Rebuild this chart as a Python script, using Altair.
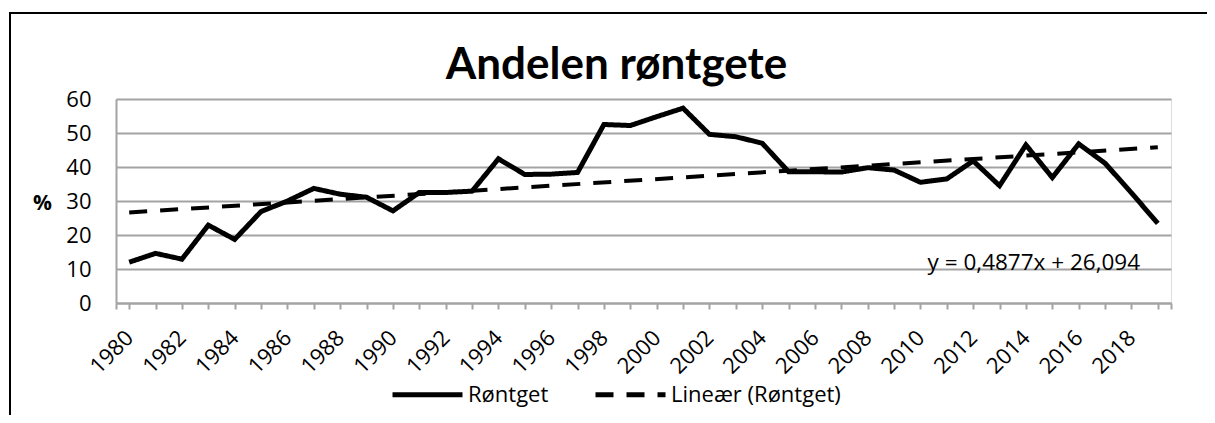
import altair as alt
import pandas as pd

years = list(range(1980, 2020))
values = [12.0, 14.6, 12.9, 22.9, 18.7, 26.9, 30.0, 33.7, 32.0, 31.1,
          27.1, 32.5, 32.5, 32.9, 42.4, 37.8, 37.9, 38.4, 52.5, 52.2,
          54.8, 57.3, 49.6, 48.9, 47.0, 38.6, 38.6, 38.5, 39.8, 39.1,
          35.5, 36.5, 41.8, 34.5, 46.5, 36.9, 46.8, 41.1, 32.4, 23.4]
series_names = ["Røntget", "Lineær (Røntget)"]
y_ticks = [0, 10, 20, 30, 40, 50, 60]
x_ticks = [1979.5] + years + [2019.5]
title_text = "Andelen røntgete"
equation = "y = 0,4877x + 26,094"

df = pd.DataFrame({"year": years, "value": values, "series": series_names[0]})

FONT = "Lato"
FONT2 = "Open Sans"
GRID = "#a3a3a3"

x_axis = alt.Axis(
    values=x_ticks, tickCount=100,
    labelExpr="datum.value % 2 == 0 ? '' + datum.value : ''",
    labelAngle=-45, labelAlign="right", labelBaseline="middle",
    labelPadding=25, tickSize=6, tickColor=GRID, tickWidth=2,
    domainColor=GRID, domainWidth=2, grid=False,
    labelFont=FONT2, labelFontSize=22, labelColor="black",
    labelOverlap=False, title=None,
)
y_axis = alt.Axis(
    values=y_ticks, tickCount=len(y_ticks), ticks=False, tickSize=0,
    labelPadding=25, labelOverlap=False,
    domainColor=GRID, domainWidth=2, gridColor=GRID, gridWidth=2,
    labelFont=FONT2, labelFontSize=22, labelColor="black",
    title="%", titleAngle=0, titleFont=FONT2, titleFontSize=21,
    titleFontWeight="bold", titleX=-74, titleY=104,
    titleAlign="center", titleBaseline="middle", titleColor="black",
)
x_scale = alt.Scale(domain=[1979.5, 2019.5], nice=False, zero=False)
y_scale = alt.Scale(domain=[0, 60], nice=False)

dash = alt.StrokeDash(
    "series:N",
    scale=alt.Scale(domain=series_names, range=[[1, 0], [18, 13]]),
    legend=alt.Legend(
        title=None, orient="none", direction="horizontal",
        legendX=274, legendY=258, symbolType="stroke",
        symbolSize=4900, symbolStrokeWidth=5, symbolStrokeColor="black",
        labelFont=FONT2, labelFontSize=22, labelColor="black",
        labelOffset=3, columnPadding=36, labelLimit=400,
    ),
)

base = alt.Chart(df)

line = base.mark_line(color="black", strokeWidth=5).encode(
    x=alt.X("year:Q", scale=x_scale, axis=x_axis),
    y=alt.Y("value:Q", scale=y_scale, axis=y_axis),
    strokeDash=dash,
)

trend = base.transform_regression("year", "value").transform_calculate(
    series=f"'{series_names[1]}'"
).mark_line(color="black", strokeWidth=4).encode(
    x=alt.X("year:Q", scale=x_scale, axis=x_axis),
    y=alt.Y("value:Q", scale=y_scale, axis=y_axis),
    strokeDash=alt.StrokeDash("series:N"),
)

eq = alt.Chart(pd.DataFrame({"t": [equation]})).mark_text(
    font=FONT2, fontSize=22.5, color="black", align="center", baseline="middle"
).encode(x=alt.datum(2014.3), y=alt.datum(11.8), text="t:N")

frame_top = alt.Chart(pd.DataFrame({"f": [0]})).mark_rule(
    color="black", strokeWidth=2, clip=False
).encode(x=alt.value(-107), x2=alt.value(1200), y=alt.value(-86))

frame_left = alt.Chart(pd.DataFrame({"f": [0]})).mark_rule(
    color="black", strokeWidth=2, clip=False
).encode(x=alt.value(-106), y=alt.value(-87), y2=alt.value(400))

chart = alt.layer(frame_top, frame_left, trend, line, eq).properties(
    width=1055, height=204,
    title=alt.TitleParams(
        title_text, font=FONT, fontSize=44, fontWeight="bold",
        color="black", anchor="middle", dx=-27, offset=0, dy=112,
        baseline="alphabetic",
    ),
    autosize=alt.AutoSizeParams(type="none"),
    padding={"left": 108, "top": 91, "right": 36, "bottom": 112},
).configure_view(
    fill="#f2f2f2", stroke=None
).configure(background="white")

chart.save("out.html", embed_options={"renderer": "svg", "actions": False})
